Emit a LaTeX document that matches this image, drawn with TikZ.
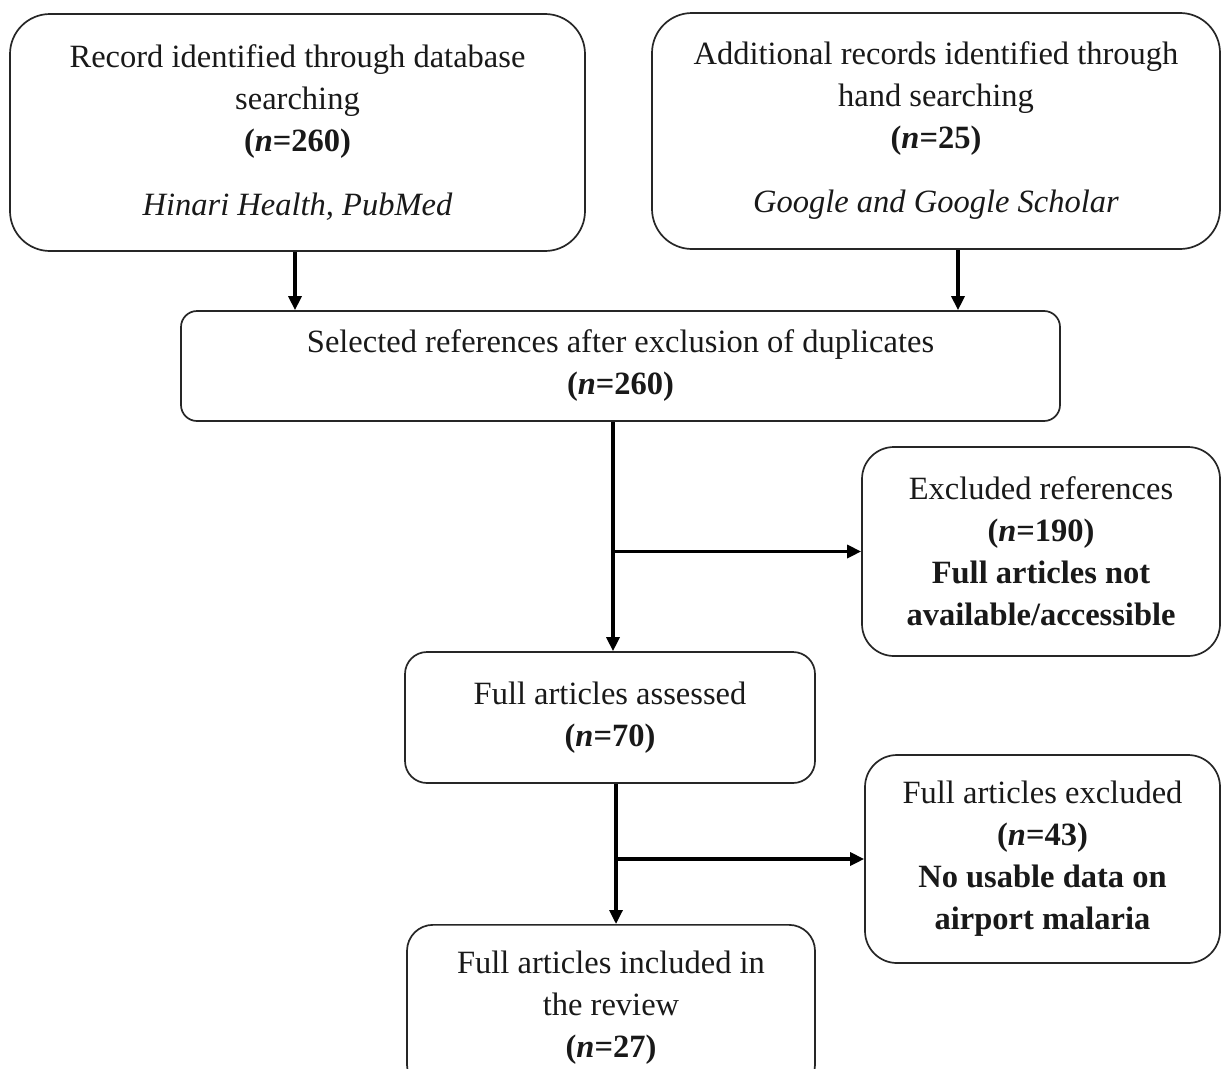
\documentclass[tikz,border=0pt]{standalone}
\usepackage{fontspec}
\setmainfont{Liberation Serif}
\usetikzlibrary{arrows.meta}

\tikzset{
  flowbox/.style={draw=black!85, line width=1.7pt, rounded corners=32pt, align=center,
    text=black!90, inner sep=0pt, font=\fontsize{32.5}{42}\selectfont},
  flowarrow/.style={line width=3.2pt, -{Triangle[length=14pt,width=13pt]}},
}

\begin{document}
\begin{tikzpicture}[x=1pt,y=-1pt]
% Page frame
\useasboundingbox (0,0) rectangle (1222,1068);
\fill[white] (0,0) rectangle (1222,1068);

% Sources
\node[flowbox, rounded corners=40pt, minimum width=575pt, minimum height=237pt] (db) at (297.5,132.5)
  {Record identified through database\\ searching\\ \textbf{(\textit{n}=260)}\\[22pt] \textit{Hinari Health, PubMed}};
\node[flowbox, rounded corners=40pt, minimum width=568pt, minimum height=236pt] (hand) at (936,131)
  {Additional records identified through\\ hand searching\\ \textbf{(\textit{n}=25)}\\[22pt] \textit{Google and Google Scholar}};

% Screening
\node[flowbox, rounded corners=16pt, minimum width=879pt, minimum height=110pt] (selected) at (620.5,366)
  {Selected references after exclusion of duplicates\\ \textbf{(\textit{n}=260)}};
\node[flowbox, minimum width=358pt, minimum height=209pt] (excl) at (1041,551.5)
  {Excluded references\\ \textbf{(\textit{n}=190)}\\ \textbf{Full articles not}\\ \textbf{available/accessible}};

% Eligibility
\node[flowbox, rounded corners=22pt, minimum width=410pt, minimum height=131pt] (assessed) at (610,717.5)
  {Full articles assessed\\ \textbf{(\textit{n}=70)}};
\node[flowbox, minimum width=355pt, minimum height=208pt] (fullexcl) at (1042.5,859)
  {Full articles excluded\\ \textbf{(\textit{n}=43)}\\ \textbf{No usable data on}\\ \textbf{airport malaria}};

% Included
\node[flowbox, rounded corners=26pt, anchor=north, minimum width=408pt, minimum height=166pt] (included) at (611,924)
  {Full articles included in\\ the review\\ \textbf{(\textit{n}=27)}};

% Connectors
\draw[flowarrow] ([xshift=-2.5pt]db.south) -- ([xshift=-2.5pt]db.south |- selected.north);
\draw[flowarrow] ([xshift=22pt]hand.south) -- ([xshift=22pt]hand.south |- selected.north);
\draw[flowarrow] ([xshift=3pt]assessed.north |- selected.south) -- ([xshift=3pt]assessed.north);
\draw[flowarrow] ([xshift=3pt]assessed.north |- excl.west) -- (excl.west);
\draw[flowarrow] ([xshift=6pt]assessed.south) -- ([xshift=6pt]assessed.south |- included.north);
\draw[flowarrow] ([xshift=6pt]assessed.south |- fullexcl.west) -- (fullexcl.west);
\end{tikzpicture}
\end{document}
